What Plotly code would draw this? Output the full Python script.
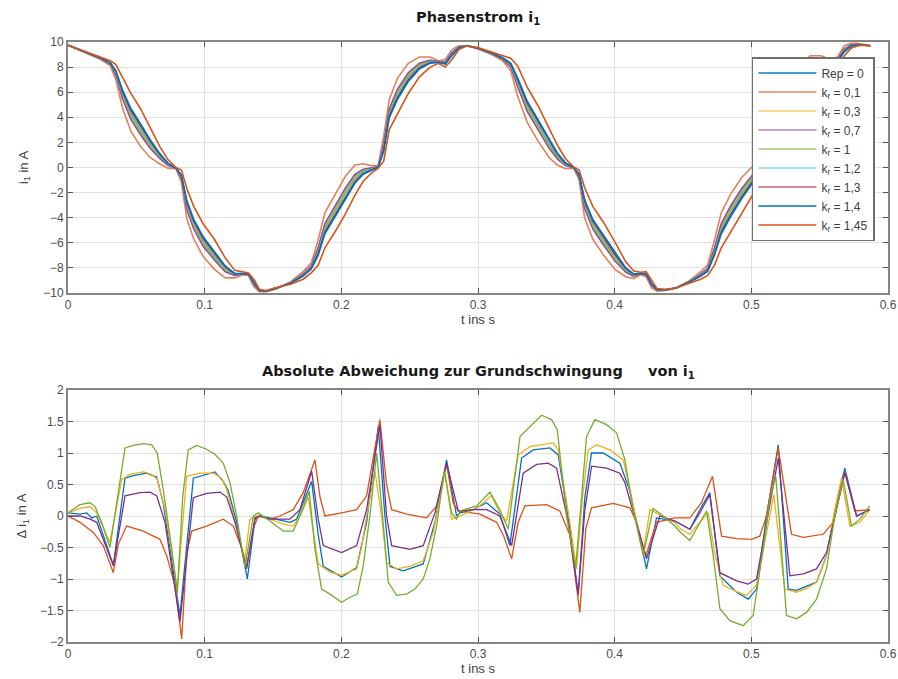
import plotly.graph_objects as go
from plotly.subplots import make_subplots

# ---------------- top plot data: Phasenstrom i1 ----------------
t_top = [0.000, 0.012, 0.024, 0.031, 0.035, 0.040, 0.046, 0.053, 0.060, 0.067,
         0.073, 0.079, 0.083, 0.087, 0.092, 0.099, 0.107, 0.115, 0.122, 0.128,
         0.132, 0.136, 0.140, 0.145, 0.153, 0.163, 0.172, 0.178, 0.183, 0.188,
         0.195, 0.203, 0.210, 0.216, 0.222, 0.227, 0.231, 0.235, 0.241, 0.249,
         0.257, 0.265, 0.271, 0.276, 0.281, 0.286, 0.292, 0.300, 0.310, 0.318,
         0.324, 0.329, 0.336, 0.344, 0.352, 0.358, 0.364, 0.370, 0.374, 0.378,
         0.384, 0.392, 0.400, 0.408, 0.414, 0.419, 0.423, 0.427, 0.431, 0.437,
         0.445, 0.455, 0.463, 0.468, 0.473, 0.478, 0.485, 0.493, 0.501, 0.508,
         0.514, 0.519, 0.523, 0.528, 0.535, 0.543, 0.551, 0.558, 0.563, 0.568,
         0.573, 0.578, 0.583, 0.587]

i_kr01 = [9.75, 9.15, 8.6, 8.1, 7.0, 4.7, 2.9, 1.7, 0.8, 0.3,
          -0.05, -0.1, -1.2, -4.1, -5.7, -7.1, -8.1, -8.8, -8.8, -8.55,
          -8.6, -9.5, -9.9, -9.9, -9.65, -9.1, -8.3, -7.6, -5.8, -3.6,
          -2.2, -0.7, 0.2, 0.3, 0.15, 0.15, 2.5, 5.4, 7.1, 8.3,
          8.8, 8.8, 8.5, 8.6, 9.4, 9.7, 9.7, 9.45, 9.0, 8.5,
          7.7, 5.7, 3.6, 2.1, 0.8, 0.2, -0.1, -0.05, -1.0, -4.0,
          -5.7, -7.0, -8.1, -8.7, -8.85, -8.55, -8.7, -9.6, -9.85, -9.8,
          -9.6, -9.0, -8.3, -7.8, -5.8, -3.6, -2.1, -0.8, 0.1, 0.3,
          0.2, 1.2, 4.7, 6.7, 8.1, 8.9, 8.9, 8.6, 8.8, 9.7,
          9.9, 9.9, 9.75, 9.7]
i_kr07 = [9.75, 9.18, 8.66, 8.22, 7.36, 5.42, 3.8, 2.6, 1.52, 0.72,
          0.16, -0.07, -0.9, -3.38, -4.92, -6.32, -7.38, -8.32, -8.62, -8.49,
          -8.54, -9.32, -9.84, -9.87, -9.62, -9.16, -8.48, -7.84, -6.4, -4.44,
          -3.1, -1.6, -0.52, -0.12, -0.03, 0.09, 1.9, 4.68, 6.26, 7.58,
          8.32, 8.56, 8.44, 8.42, 9.16, 9.61, 9.7, 9.48, 9.06, 8.62,
          8.0, 6.42, 4.44, 2.94, 1.52, 0.68, 0.14, -0.02, -0.76, -3.28,
          -4.92, -6.22, -7.44, -8.34, -8.67, -8.49, -8.58, -9.42, -9.79, -9.77,
          -9.6, -9.06, -8.48, -8.04, -6.4, -4.44, -3.0, -1.64, -0.56, -0.06,
          0.08, 0.84, 3.98, 5.86, 7.32, 8.3, 8.6, 8.48, 8.62, 9.46,
          9.78, 9.84, 9.75, 9.7]
i_rep0 = [9.75, 9.18, 8.67, 8.24, 7.42, 5.54, 3.95, 2.75, 1.64, 0.79,
          0.2, -0.07, -0.85, -3.26, -4.79, -6.19, -7.26, -8.24, -8.59, -8.48,
          -8.53, -9.29, -9.83, -9.87, -9.62, -9.17, -8.51, -7.88, -6.5, -4.58,
          -3.25, -1.75, -0.64, -0.19, -0.06, 0.08, 1.8, 4.56, 6.12, 7.46,
          8.24, 8.52, 8.43, 8.39, 9.12, 9.6, 9.7, 9.49, 9.07, 8.64,
          8.05, 6.54, 4.58, 3.08, 1.64, 0.76, 0.18, -0.02, -0.72, -3.16,
          -4.79, -6.09, -7.33, -8.28, -8.64, -8.48, -8.56, -9.39, -9.78, -9.77,
          -9.6, -9.07, -8.51, -8.08, -6.5, -4.58, -3.15, -1.78, -0.67, -0.12,
          0.06, 0.78, 3.86, 5.72, 7.19, 8.2, 8.55, 8.46, 8.59, 9.42,
          9.76, 9.83, 9.75, 9.7]
i_kr03 = [9.75, 9.19, 8.68, 8.26, 7.48, 5.66, 4.1, 2.9, 1.76, 0.86,
          0.23, -0.06, -0.8, -3.14, -4.66, -6.06, -7.14, -8.16, -8.56, -8.47,
          -8.52, -9.26, -9.82, -9.86, -9.61, -9.18, -8.54, -7.92, -6.6, -4.72,
          -3.4, -1.9, -0.76, -0.26, -0.09, 0.07, 1.7, 4.44, 5.98, 7.34,
          8.16, 8.48, 8.42, 8.36, 9.08, 9.58, 9.7, 9.49, 9.08, 8.66,
          8.1, 6.66, 4.72, 3.22, 1.76, 0.84, 0.22, -0.01, -0.68, -3.04,
          -4.66, -5.96, -7.22, -8.22, -8.61, -8.47, -8.54, -9.36, -9.77, -9.76,
          -9.6, -9.08, -8.54, -8.12, -6.6, -4.72, -3.3, -1.92, -0.78, -0.18,
          0.04, 0.72, 3.74, 5.58, 7.06, 8.1, 8.5, 8.44, 8.56, 9.38,
          9.74, 9.82, 9.75, 9.7]
i_kr1 = [9.75, 9.2, 8.69, 8.28, 7.54, 5.78, 4.25, 3.05, 1.88, 0.93,
         0.27, -0.06, -0.75, -3.02, -4.53, -5.93, -7.02, -8.08, -8.53, -8.46,
         -8.51, -9.23, -9.81, -9.86, -9.61, -9.19, -8.57, -7.96, -6.7, -4.86,
         -3.55, -2.05, -0.88, -0.33, -0.12, 0.06, 1.6, 4.32, 5.84, 7.22,
         8.08, 8.44, 8.41, 8.33, 9.04, 9.57, 9.7, 9.5, 9.09, 8.68,
         8.15, 6.78, 4.86, 3.36, 1.88, 0.92, 0.26, 0.0, -0.64, -2.92,
         -4.53, -5.83, -7.11, -8.16, -8.58, -8.46, -8.52, -9.33, -9.76, -9.76,
         -9.6, -9.09, -8.57, -8.16, -6.7, -4.86, -3.45, -2.06, -0.89, -0.24,
         0.02, 0.66, 3.62, 5.44, 6.93, 8.0, 8.45, 8.42, 8.53, 9.34,
         9.72, 9.81, 9.75, 9.7]
i_kr12 = [9.75, 9.2, 8.7, 8.3, 7.6, 5.9, 4.4, 3.2, 2.0, 1.0,
          0.3, -0.05, -0.7, -2.9, -4.4, -5.8, -6.9, -8.0, -8.5, -8.45,
          -8.5, -9.2, -9.8, -9.85, -9.6, -9.2, -8.6, -8.0, -6.8, -5.0,
          -3.7, -2.2, -1.0, -0.4, -0.15, 0.05, 1.5, 4.2, 5.7, 7.1,
          8.0, 8.4, 8.4, 8.3, 9.0, 9.55, 9.7, 9.5, 9.1, 8.7,
          8.2, 6.9, 5.0, 3.5, 2.0, 1.0, 0.3, 0.0, -0.6, -2.8,
          -4.4, -5.7, -7.0, -8.1, -8.55, -8.45, -8.5, -9.3, -9.75, -9.75,
          -9.6, -9.1, -8.6, -8.2, -6.8, -5.0, -3.6, -2.2, -1.0, -0.3,
          0.0, 0.6, 3.5, 5.3, 6.8, 7.9, 8.4, 8.4, 8.5, 9.3,
          9.7, 9.8, 9.75, 9.7]
i_kr13 = [9.75, 9.21, 8.71, 8.32, 7.66, 6.02, 4.55, 3.35, 2.12, 1.07,
          0.34, -0.04, -0.65, -2.78, -4.27, -5.67, -6.78, -7.92, -8.47, -8.44,
          -8.49, -9.17, -9.79, -9.85, -9.6, -9.21, -8.63, -8.04, -6.9, -5.14,
          -3.85, -2.35, -1.12, -0.47, -0.18, 0.04, 1.4, 4.08, 5.56, 6.98,
          7.92, 8.36, 8.39, 8.27, 8.96, 9.54, 9.7, 9.51, 9.11, 8.72,
          8.25, 7.02, 5.14, 3.64, 2.12, 1.08, 0.34, 0.01, -0.56, -2.68,
          -4.27, -5.57, -6.89, -8.04, -8.52, -8.44, -8.48, -9.27, -9.74, -9.75,
          -9.6, -9.11, -8.63, -8.24, -6.9, -5.14, -3.75, -2.34, -1.11, -0.36,
          -0.02, 0.54, 3.38, 5.16, 6.67, 7.8, 8.35, 8.38, 8.47, 9.26,
          9.68, 9.79, 9.75, 9.7]
i_kr14 = [9.75, 9.21, 8.72, 8.34, 7.72, 6.14, 4.7, 3.5, 2.24, 1.14,
          0.37, -0.04, -0.6, -2.66, -4.14, -5.54, -6.66, -7.84, -8.44, -8.43,
          -8.48, -9.14, -9.78, -9.84, -9.59, -9.22, -8.66, -8.08, -7.0, -5.28,
          -4.0, -2.5, -1.24, -0.54, -0.21, 0.03, 1.3, 3.96, 5.42, 6.86,
          7.84, 8.32, 8.38, 8.24, 8.92, 9.52, 9.7, 9.51, 9.12, 8.74,
          8.3, 7.14, 5.28, 3.78, 2.24, 1.16, 0.38, 0.01, -0.52, -2.56,
          -4.14, -5.44, -6.78, -7.98, -8.49, -8.43, -8.46, -9.24, -9.73, -9.74,
          -9.6, -9.12, -8.66, -8.28, -7.0, -5.28, -3.9, -2.48, -1.22, -0.42,
          -0.04, 0.48, 3.26, 5.02, 6.54, 7.7, 8.3, 8.36, 8.44, 9.22,
          9.66, 9.78, 9.75, 9.7]
i_kr145 = [9.75, 9.25, 8.8, 8.5, 8.2, 7.1, 5.9, 4.7, 3.2, 1.7,
           0.65, 0.0, -0.2, -1.7, -3.1, -4.5, -5.7, -7.2, -8.2, -8.35,
           -8.4, -8.9, -9.7, -9.8, -9.55, -9.3, -8.9, -8.4, -7.8, -6.4,
           -5.2, -3.7, -2.2, -1.1, -0.45, -0.05, 0.5, 3.0, 4.3, 5.9,
           7.2, 8.0, 8.3, 8.0, 8.6, 9.4, 9.7, 9.55, 9.2, 8.9,
           8.7, 8.1, 6.4, 4.9, 3.2, 1.8, 0.7, 0.05, -0.2, -1.6,
           -3.1, -4.4, -5.9, -7.5, -8.25, -8.35, -8.3, -9.0, -9.65, -9.7,
           -9.6, -9.2, -8.9, -8.6, -7.8, -6.4, -5.1, -3.6, -2.1, -0.9,
           -0.2, 0.0, 2.3, 3.9, 5.5, 6.9, 7.9, 8.2, 8.2, 8.9,
           9.5, 9.7, 9.75, 9.7]

top_names = ["Rep = 0", "k<sub>r</sub> = 0,1", "k<sub>r</sub> = 0,3", "k<sub>r</sub> = 0,7",
             "k<sub>r</sub> = 1", "k<sub>r</sub> = 1,2", "k<sub>r</sub> = 1,3",
             "k<sub>r</sub> = 1,4", "k<sub>r</sub> = 1,45"]
top_values = [i_rep0, i_kr01, i_kr03, i_kr07, i_kr1, i_kr12, i_kr13, i_kr14, i_kr145]
top_colors = ["#4a9ad4", "#e57f5c", "#EDB120", "#8e4a9e", "#77AC30",
              "#4DBEEE", "#A2142F", "#0072BD", "#D95319"]
top_widths = [2.0, 1.6, 1.2, 1.2, 1.2, 1.2, 1.2, 1.6, 1.6]

# ---------------- bottom plot data: deviation from fundamental ----------------
t_g = [0.0, 0.0088, 0.0161, 0.0198, 0.0246, 0.0307, 0.0356, 0.0417, 0.0478, 0.0551,
       0.0612, 0.0653, 0.0697, 0.0758, 0.0800, 0.0839, 0.0880, 0.0941, 0.1014, 0.1075,
       0.1136, 0.1185, 0.1234, 0.1295, 0.1356, 0.1392, 0.1478, 0.1575, 0.1648, 0.1697,
       0.1765, 0.1807, 0.1856, 0.1917, 0.2002, 0.2063, 0.2117, 0.2160, 0.2209, 0.2258,
       0.2302, 0.2343, 0.2404, 0.2477, 0.2538, 0.2599, 0.2648, 0.2697, 0.2753, 0.2807,
       0.2843, 0.2868, 0.2990, 0.3087, 0.3160, 0.3221, 0.3307, 0.3380, 0.3465, 0.3538,
       0.3580, 0.3648, 0.3714, 0.3758, 0.3794, 0.3855, 0.3940, 0.4014, 0.4075, 0.4135,
       0.4209, 0.4282, 0.4355, 0.4440, 0.4477, 0.4550, 0.4623, 0.4672, 0.4721, 0.4770,
       0.4843, 0.4940, 0.5013, 0.5086, 0.5135, 0.5179, 0.5221, 0.5257, 0.5331, 0.5404,
       0.5477, 0.5550, 0.5611, 0.5672, 0.5733, 0.5794, 0.5867]
d_g = [0.05, 0.18, 0.21, 0.15, -0.1, -0.5, 0.2, 1.08, 1.12, 1.15,
       1.13, 1.0, 0.42, -0.5, -1.22, 0.3, 1.05, 1.12, 1.06, 0.98,
       0.84, 0.53, 0.0, -0.82, 0.0, 0.05, -0.08, -0.24, -0.24, 0.0,
       0.39, -0.53, -1.16, -1.24, -1.37, -1.29, -1.24, -0.79, 0.0, 1.0,
       0.0, -1.05, -1.26, -1.24, -1.16, -1.0, -0.68, -0.16, 0.71, 0.05,
       -0.05, 0.08, 0.16, 0.38, 0.1, -0.21, 1.26, 1.42, 1.6, 1.53,
       1.37, 0.0, -0.82, 0.3, 1.26, 1.53, 1.45, 1.32, 0.89, 0.1,
       -0.63, 0.12, 0.0, -0.16, -0.25, -0.39, -0.1, 0.08, -0.63, -1.47,
       -1.66, -1.74, -1.58, -0.53, 0.26, 0.63, -0.53, -1.58, -1.63, -1.53,
       -1.32, -0.84, 0.0, 0.58, -0.16, -0.05, 0.16]

t_y = [0.0, 0.0088, 0.0161, 0.0210, 0.0307, 0.0393, 0.0454, 0.0551, 0.0612, 0.0653,
       0.0710, 0.0800, 0.0868, 0.0966, 0.1063, 0.1124, 0.1161, 0.1222, 0.1295, 0.1331,
       0.1380, 0.1478, 0.1575, 0.1648, 0.1710, 0.1758, 0.1831, 0.1917, 0.2002, 0.2112,
       0.2148, 0.2185, 0.2246, 0.2294, 0.2331, 0.2404, 0.2502, 0.2599, 0.2673, 0.2758,
       0.2807, 0.2868, 0.2990, 0.3099, 0.3160, 0.3209, 0.3294, 0.3380, 0.3477, 0.3550,
       0.3587, 0.3672, 0.3721, 0.3765, 0.3807, 0.3868, 0.3965, 0.4063, 0.4111, 0.4209,
       0.4258, 0.4355, 0.4440, 0.4477, 0.4550, 0.4623, 0.4684, 0.4733, 0.4794, 0.4892,
       0.4965, 0.5038, 0.5099, 0.5135, 0.5165, 0.5209, 0.5245, 0.5331, 0.5404, 0.5477,
       0.5550, 0.5611, 0.5660, 0.5721, 0.5794, 0.5867]
d_y = [0.05, 0.12, 0.15, 0.05, -0.42, 0.58, 0.66, 0.7, 0.66, 0.58,
       0.1, -1.16, 0.63, 0.68, 0.68, 0.6, 0.42, -0.1, -0.68, -0.05,
       0.0, -0.05, -0.13, -0.16, 0.05, 0.3, -0.76, -0.89, -0.94, -0.84,
       -0.5, 0.0, 0.71, 0.0, -0.74, -0.84, -0.8, -0.71, -0.26, 0.71,
       -0.05, 0.0, 0.12, 0.32, 0.05, -0.08, 0.97, 1.1, 1.13, 1.16,
       1.05, -0.1, -0.84, 0.3, 1.05, 1.13, 1.05, 0.89, 0.42, -0.58,
       0.1, 0.0, -0.1, -0.2, -0.29, -0.1, 0.05, -0.6, -1.1, -1.2,
       -1.26, -1.1, -0.4, 0.0, 0.34, -0.5, -1.16, -1.21, -1.15, -1.05,
       -0.63, 0.1, 0.6, -0.16, -0.1, 0.1]

t_b = [0.0, 0.0088, 0.0137, 0.0173, 0.0210, 0.0332, 0.0417, 0.0478, 0.0575, 0.0649,
       0.0697, 0.0819, 0.0917, 0.1014, 0.1075, 0.1136, 0.1173, 0.1234, 0.1312, 0.1368,
       0.1404, 0.1478, 0.1624, 0.1673, 0.1783, 0.1831, 0.1868, 0.2002, 0.2112, 0.2185,
       0.2270, 0.2319, 0.2356, 0.2453, 0.2599, 0.2685, 0.2770, 0.2843, 0.2868, 0.2965,
       0.3063, 0.3160, 0.3233, 0.3319, 0.3404, 0.3526, 0.3587, 0.3672, 0.3733, 0.3782,
       0.3831, 0.3916, 0.4038, 0.4111, 0.4172, 0.4233, 0.4306, 0.4440, 0.4550, 0.4623,
       0.4696, 0.4770, 0.4892, 0.4977, 0.5038, 0.5111, 0.5197, 0.5270, 0.5331, 0.5477,
       0.5550, 0.5623, 0.5684, 0.5770, 0.5867]
d_b = [0.05, 0.03, 0.05, -0.03, 0.0, -0.78, 0.6, 0.64, 0.68, 0.62,
       0.2, -1.58, 0.6, 0.66, 0.7, 0.55, 0.4, -0.1, -1.0, -0.05,
       0.0, -0.03, -0.1, -0.05, 0.55, -0.3, -0.8, -0.97, -0.82, -0.1,
       1.42, 0.0, -0.8, -0.87, -0.76, -0.1, 0.89, 0.0, 0.05, 0.1,
       0.21, 0.03, -0.47, 0.92, 1.05, 1.08, 0.97, -0.2, -1.26, 0.3,
       1.0, 1.0, 0.84, 0.4, -0.2, -0.84, -0.03, -0.08, -0.21, 0.1,
       0.37, -0.95, -1.21, -1.32, -1.16, 0.0, 1.13, -1.16, -1.18, -1.05,
       -0.63, 0.2, 0.76, 0.0, 0.1]

t_p = [0.0, 0.0088, 0.0161, 0.0210, 0.0332, 0.0417, 0.0527, 0.0600, 0.0649, 0.0710,
       0.0819, 0.0917, 0.1014, 0.1112, 0.1161, 0.1222, 0.1307, 0.1368, 0.1404, 0.1478,
       0.1624, 0.1697, 0.1783, 0.1831, 0.1868, 0.2002, 0.2112, 0.2185, 0.2282, 0.2331,
       0.2368, 0.2502, 0.2599, 0.2685, 0.2770, 0.2856, 0.2965, 0.3063, 0.3160, 0.3246,
       0.3331, 0.3429, 0.3514, 0.3575, 0.3660, 0.3733, 0.3782, 0.3831, 0.3940, 0.4038,
       0.4075, 0.4160, 0.4233, 0.4331, 0.4440, 0.4550, 0.4623, 0.4696, 0.4770, 0.4892,
       0.4977, 0.5038, 0.5111, 0.5197, 0.5282, 0.5380, 0.5477, 0.5550, 0.5623, 0.5684,
       0.5770, 0.5867]
d_p = [0.0, 0.0, -0.05, -0.1, -0.79, 0.32, 0.37, 0.38, 0.32, -0.1,
       -1.68, 0.29, 0.36, 0.38, 0.3, -0.1, -0.84, -0.03, 0.0, -0.05,
       -0.05, 0.1, 0.71, -0.05, -0.47, -0.58, -0.47, 0.1, 1.45, 0.0,
       -0.47, -0.53, -0.47, 0.05, 0.84, 0.08, 0.1, 0.1, 0.0, -0.47,
       0.68, 0.82, 0.84, 0.76, -0.1, -1.24, 0.1, 0.79, 0.76, 0.68,
       0.53, -0.1, -0.68, 0.0, -0.08, -0.21, 0.05, 0.34, -0.9, -1.03,
       -1.08, -1.0, -0.1, 0.92, -0.95, -0.92, -0.84, -0.58, 0.1, 0.68,
       0.0, 0.1]

t_r = [0.0, 0.0088, 0.0185, 0.0258, 0.0332, 0.0368, 0.0429, 0.0551, 0.0673, 0.0722,
       0.0783, 0.0832, 0.0868, 0.0905, 0.1014, 0.1136, 0.1209, 0.1270, 0.1307, 0.1356,
       0.1392, 0.1478, 0.1551, 0.1648, 0.1721, 0.1807, 0.1844, 0.1880, 0.2002, 0.2112,
       0.2185, 0.2282, 0.2331, 0.2368, 0.2477, 0.2624, 0.2697, 0.2770, 0.2819, 0.2856,
       0.3014, 0.3136, 0.3185, 0.3246, 0.3294, 0.3343, 0.3502, 0.3599, 0.3672, 0.3745,
       0.3789, 0.3831, 0.3989, 0.4111, 0.4160, 0.4228, 0.4306, 0.4440, 0.4550, 0.4635,
       0.4716, 0.4782, 0.4892, 0.5001, 0.5062, 0.5111, 0.5197, 0.5294, 0.5380, 0.5526,
       0.5599, 0.5684, 0.5758, 0.5867]
d_r = [0.0, -0.1, -0.26, -0.47, -0.9, -0.45, -0.16, -0.24, -0.37, -0.63,
       -1.1, -1.95, -0.6, -0.24, -0.16, -0.05, -0.16, -0.5, -0.8, -0.2,
       0.0, -0.05, 0.0, 0.1, 0.37, 0.89, 0.3, 0.0, 0.05, 0.1,
       0.32, 1.53, 0.5, 0.1, 0.03, -0.03, 0.16, 0.82, 0.2, 0.08,
       0.03, -0.1, -0.3, -0.68, -0.1, 0.16, 0.18, 0.08, -0.3, -1.53,
       -0.2, 0.13, 0.2, 0.13, -0.1, -0.63, -0.1, -0.03, -0.03, 0.21,
       0.63, -0.32, -0.36, -0.37, -0.32, 0.0, 1.08, -0.29, -0.34, -0.29,
       -0.1, 0.71, 0.08, 0.1]

bottom_series = [(t_b, d_b, "#0072BD"), (t_r, d_r, "#D95319"), (t_y, d_y, "#EDB120"),
                 (t_p, d_p, "#7E2F8E"), (t_g, d_g, "#77AC30")]

x_ticks = [0, 0.1, 0.2, 0.3, 0.4, 0.5, 0.6]
x_ticklabels = ["0", "0.1", "0.2", "0.3", "0.4", "0.5", "0.6"]
y1_ticks = [-10, -8, -6, -4, -2, 0, 2, 4, 6, 8, 10]
y2_ticks = [-2, -1.5, -1, -0.5, 0, 0.5, 1, 1.5, 2]

# ---------------- figure ----------------
fig = make_subplots(rows=2, cols=1, vertical_spacing=0.0)

for name, vals, col, w in zip(top_names, top_values, top_colors, top_widths):
    fig.add_trace(go.Scatter(x=t_top, y=vals, mode="lines", name=name,
                             line=dict(color=col, width=w)), row=1, col=1)

for tt, dd, col in bottom_series:
    fig.add_trace(go.Scatter(x=tt, y=dd, mode="lines", showlegend=False,
                             line=dict(color=col, width=1.3)), row=2, col=1)

base_family = "Liberation Sans, Arial, sans-serif"
tick_font = dict(family=base_family, size=12, color="#4d4d4d")
label_font = dict(family=base_family, size=13, color="#404040")
axis_common = dict(showline=True, linecolor="#858585", linewidth=2, mirror="ticks",
                   ticks="inside", ticklen=5, tickcolor="#555555", tickwidth=1,
                   showgrid=True, gridcolor="#e0e0e0", gridwidth=1, zeroline=False,
                   tickfont=tick_font, automargin=False)

fig.update_xaxes(**axis_common, range=[0, 0.6], tickvals=x_ticks, ticktext=x_ticklabels)
fig.update_yaxes(**axis_common)

fig.update_xaxes(domain=[0, 1], row=1, col=1,
                 title=dict(text="t ins s", standoff=0, font=label_font))
fig.update_xaxes(domain=[0, 1], row=2, col=1,
                 title=dict(text="t ins s", standoff=0, font=label_font))
fig.update_yaxes(domain=[0.5817, 1.0], range=[-10, 10], tickvals=y1_ticks, row=1, col=1,
                 title=dict(text="i<sub>1</sub> in A", standoff=12, font=label_font))
fig.update_yaxes(domain=[0.0, 0.42], range=[-2, 2], tickvals=y2_ticks, row=2, col=1,
                 title=dict(text="Δ i<sub>1</sub> in A", standoff=10, font=label_font))

title_font = dict(family="DejaVu Sans, Lato, sans-serif", size=14.5, color="#1a1a1a")
fig.add_annotation(text="<b>Phasenstrom i<sub>1</sub></b>", xref="paper", yref="paper",
                   x=0.5, y=1.04, xanchor="center", yanchor="middle",
                   showarrow=False, font=title_font)
fig.add_annotation(text="<b>Absolute Abweichung zur Grundschwingung\u00a0\u00a0\u00a0\u00a0\u00a0von i<sub>1</sub></b>",
                   xref="paper", yref="paper", x=0.5, y=0.45, xanchor="center",
                   yanchor="middle", showarrow=False, font=title_font)

fig.update_layout(
    width=898, height=679, autosize=False,
    margin=dict(l=68, r=10, t=42, b=37, autoexpand=False),
    paper_bgcolor="white", plot_bgcolor="white",
    font=dict(family=base_family),
    showlegend=True,
    legend=dict(x=0.834, y=0.975, xanchor="left", yanchor="top",
                bgcolor="white", bordercolor="#6f6f6f", borderwidth=1.5,
                font=dict(family=base_family, size=12, color="#404040"),
                tracegroupgap=0, itemwidth=58),
)

# remove the default page margin so the 898x679 figure fills the window exactly
fig.write_html(
    "out.html",
    config={"displayModeBar": False, "responsive": False},
    post_script=("document.documentElement.style.margin='0';"
                 "document.documentElement.style.overflow='hidden';"
                 "document.body.style.margin='0';"
                 "document.body.style.overflow='hidden';"),
)
